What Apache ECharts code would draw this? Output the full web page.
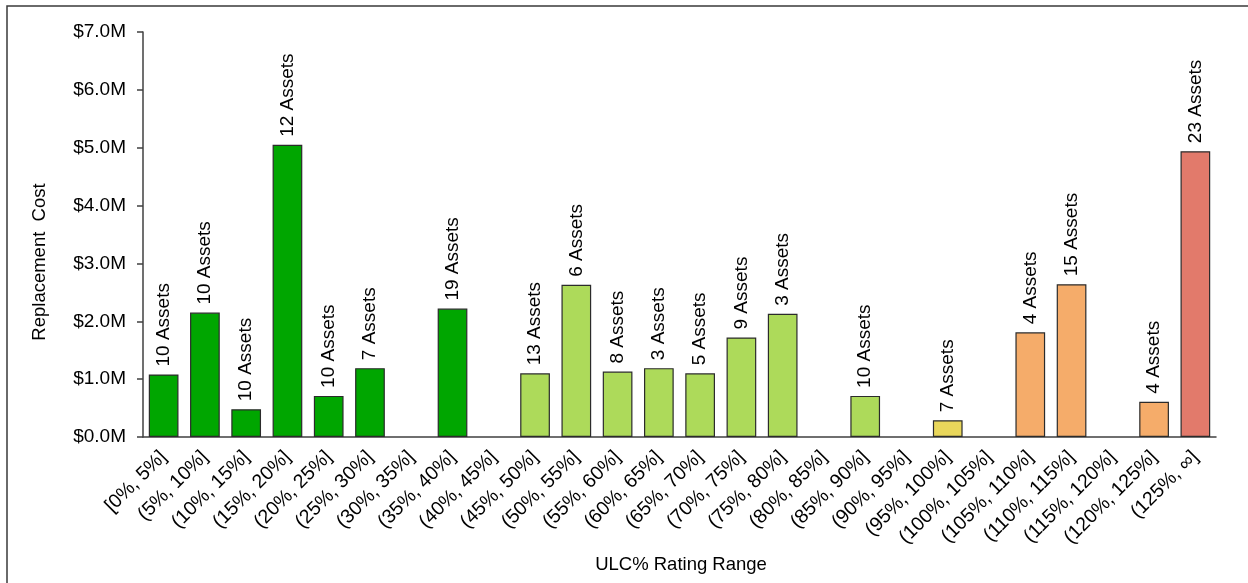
<!DOCTYPE html>
<html>
<head>
<meta charset="utf-8">
<script src="https://cdn.jsdelivr.net/npm/echarts@6/dist/echarts.min.js"></script>
<style>
html,body{margin:0;padding:0;background:#fff;}
#chart{width:1248px;height:583px;}
</style>
</head>
<body>
<div id="chart"></div>
<script>
var categories = ['[0%, 5%]','(5%, 10%]','(10%, 15%]','(15%, 20%]','(20%, 25%]','(25%, 30%]','(30%, 35%]','(35%, 40%]','(40%, 45%]','(45%, 50%]','(50%, 55%]','(55%, 60%]','(60%, 65%]','(65%, 70%]','(70%, 75%]','(75%, 80%]','(80%, 85%]','(85%, 90%]','(90%, 95%]','(95%, 100%]','(100%, 105%]','(105%, 110%]','(110%, 115%]','(115%, 120%]','(120%, 125%]','(125%, \u221e]'];
var costs = [1080000, 2150000, 480000, 5050000, 710000, 1190000, null, 2220000, null, 1100000, 2630000, 1130000, 1190000, 1100000, 1720000, 2130000, null, 710000, null, 290000, null, 1810000, 2640000, null, 610000, 4940000];
var assetCounts = [10, 10, 10, 12, 10, 7, null, 19, null, 13, 6, 8, 3, 5, 9, 3, null, 10, null, 7, null, 4, 15, null, 4, 23];
var yTicks = [0, 1000000, 2000000, 3000000, 4000000, 5000000, 6000000, 7000000];

function bandColor(i) {
  if (i <= 7) return '#00A600';
  if (i <= 17) return '#ADDA5A';
  if (i <= 19) return '#E9D75B';
  if (i <= 24) return '#F5AC6A';
  return '#E27A6B';
}

var FONT = '"Liberation Sans", Arial, sans-serif';
var chart = echarts.init(document.getElementById('chart'), null, {renderer: 'canvas'});
chart.setOption({
  animation: false,
  backgroundColor: '#ffffff',
  grid: {left: 143, right: 32, top: 32, bottom: 146, containLabel: false},
  xAxis: {
    type: 'category',
    data: categories,
    axisLine: {show: true, lineStyle: {color: '#404040', width: 1.5}},
    axisTick: {show: false},
    axisLabel: {interval: 0, rotate: 45, color: '#000', fontSize: 19.5, fontFamily: FONT, margin: 17}
  },
  yAxis: {
    type: 'value',
    min: yTicks[0],
    max: yTicks[yTicks.length - 1],
    interval: 1000000,
    splitLine: {show: false},
    axisLine: {show: true, lineStyle: {color: '#404040', width: 1.5}},
    axisTick: {show: true, length: 6, lineStyle: {color: '#404040', width: 1.5}},
    axisLabel: {
      color: '#000', fontSize: 19, fontFamily: FONT, margin: 17,
      formatter: function (v) { return '$' + (v / 1000000).toFixed(1) + 'M'; }
    }
  },
  graphic: [
    {type: 'rect', shape: {x: 7, y: 6, width: 1400, height: 800}, style: {fill: 'none', stroke: '#3a3a3a', lineWidth: 1.5}, silent: true},
    {type: 'text', x: 40, y: 262, rotation: Math.PI / 2, style: {text: 'Replacement  Cost', font: '18.5px ' + FONT, fill: '#000', textAlign: 'center', textVerticalAlign: 'middle'}},
    {type: 'text', x: 681, y: 565, style: {text: 'ULC% Rating Range', font: '18.5px ' + FONT, fill: '#000', textAlign: 'center', textVerticalAlign: 'middle'}}
  ],
  series: [{
    type: 'bar',
    barWidth: '72%',
    data: costs.map(function (v, i) {
      return {value: v, itemStyle: {color: bandColor(i), borderColor: '#2b2b2b', borderWidth: 1.2}};
    }),
    label: {
      show: true,
      position: 'top',
      rotate: 90,
      align: 'left',
      verticalAlign: 'middle',
      distance: 8,
      color: '#000',
      fontSize: 19,
      fontFamily: FONT,
      formatter: function (p) {
        var n = assetCounts[p.dataIndex];
        return n == null ? '' : n + ' Assets';
      }
    }
  }]
});
</script>
</body>
</html>
